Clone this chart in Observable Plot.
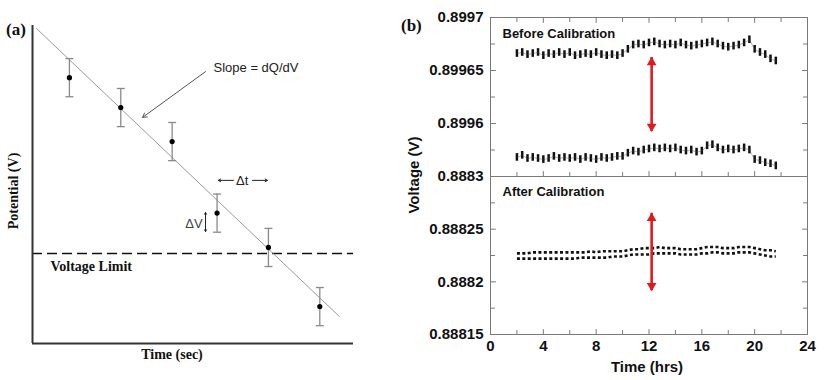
<!DOCTYPE html>
<html><head><meta charset="utf-8">
<script src="https://cdn.jsdelivr.net/npm/d3@7"></script>
<script src="https://cdn.jsdelivr.net/npm/@observablehq/plot@0.6"></script>
<style>
body{margin:0;background:#fff;}
#wrap{position:relative;width:831px;height:380px;overflow:hidden;background:#fff;}
.lbl{position:absolute;line-height:1;white-space:nowrap;color:#111;}
.serif{font-family:"Liberation Serif","Times New Roman",serif;font-weight:bold;}
.sans{font-family:"Liberation Sans",Arial,sans-serif;font-weight:bold;}
.holder{position:absolute;}
</style></head><body>
<div id="wrap">
  <div class="lbl serif" style="left:6px;top:29px;font-size:17px;transform:translateY(-50%)">(a)</div>
  <div class="lbl serif" style="left:14px;top:191px;font-size:14px;transform:translate(-50%,-50%) rotate(-90deg)">Potential (V)</div>
  <div class="lbl serif" style="left:172px;top:355px;font-size:14px;transform:translate(-50%,-50%)">Time (sec)</div>
  <div class="lbl serif" style="left:401px;top:25px;font-size:17px;transform:translateY(-50%)">(b)</div>
  <div class="lbl sans" style="left:413px;top:175px;font-size:15px;transform:translate(-50%,-50%) rotate(-90deg)">Voltage (V)</div>
  <div class="lbl sans" style="left:647px;top:366px;font-size:15px;transform:translate(-50%,-50%)">Time (hrs)</div>
</div>
<script>
// ---------- Panel (a): schematic ----------
const schemTime = [1.15, 2.75, 4.35, 5.75, 7.35, 8.95];
const schemPotential = [8.36, 7.42, 6.35, 4.1, 3.02, 1.16];
const schemError = [0.6, 0.6, 0.6, 0.6, 0.6, 0.6];
const fitTime = [0.12, 9.56];
const fitPotential = [9.91, 0.85];
const voltageLimit = 2.83;

// ---------- Panel (b) ----------
const hours = [2.0,2.4,2.8,3.2,3.6,4.0,4.4,4.8,5.2,5.6,6.0,6.4,6.8,7.2,7.6,8.0,8.4,8.8,9.2,9.6,
  10.0,10.4,10.8,11.2,11.6,12.0,12.4,12.8,13.2,13.6,14.0,14.4,14.8,15.2,15.6,16.0,16.4,16.8,17.2,17.6,
  18.0,18.4,18.8,19.2,19.6,20.0,20.4,20.8,21.2,21.6];
const beforeUpper = [0.899666,0.899667,0.899665,0.899666,0.899667,0.899664,0.899666,0.899665,0.899667,0.899665,
  0.899667,0.899664,0.899665,0.899666,0.899665,0.899667,0.899665,0.899664,0.899665,0.899664,
  0.899666,0.899670,0.899674,0.899675,0.899674,0.899676,0.899677,0.899675,0.899674,0.899675,
  0.899674,0.899676,0.899674,0.899673,0.899674,0.899675,0.899676,0.899677,0.899675,0.899673,
  0.899672,0.899673,0.899674,0.899676,0.899679,0.899670,0.899667,0.899665,0.899661,0.899659];
// lower "before" trace, read against the broken axis (bottom edge of top panel = 0.8883)
const beforeLower = [0.888318,0.888320,0.888317,0.888318,0.888317,0.888316,0.888317,0.888319,0.888317,0.888318,
  0.888317,0.888318,0.888316,0.888318,0.888317,0.888316,0.888318,0.888317,0.888318,0.888319,
  0.888319,0.888322,0.888324,0.888323,0.888325,0.888326,0.888327,0.888326,0.888327,0.888326,
  0.888327,0.888325,0.888324,0.888325,0.888323,0.888324,0.888329,0.888330,0.888327,0.888325,
  0.888326,0.888325,0.888326,0.888327,0.888325,0.888316,0.888315,0.888313,0.888312,0.888310];
const afterUpper = [0.888227,0.888227,0.888227,0.888228,0.888228,0.888228,0.888228,0.888228,0.888228,0.888228,
  0.888228,0.888228,0.888228,0.888228,0.888229,0.888228,0.888229,0.888229,0.888229,0.888229,
  0.888229,0.888230,0.888231,0.888231,0.888232,0.888232,0.888232,0.888233,0.888232,0.888232,
  0.888232,0.888231,0.888231,0.888231,0.888231,0.888232,0.888233,0.888233,0.888233,0.888232,
  0.888232,0.888232,0.888233,0.888233,0.888233,0.888232,0.888231,0.888230,0.888230,0.888229];
const afterLower = [0.888222,0.888222,0.888222,0.888222,0.888222,0.888222,0.888222,0.888222,0.888222,0.888222,
  0.888222,0.888222,0.888223,0.888223,0.888223,0.888223,0.888223,0.888223,0.888224,0.888224,
  0.888224,0.888225,0.888226,0.888226,0.888226,0.888226,0.888227,0.888227,0.888227,0.888227,
  0.888227,0.888226,0.888226,0.888226,0.888226,0.888227,0.888227,0.888228,0.888228,0.888227,
  0.888227,0.888227,0.888228,0.888228,0.888228,0.888227,0.888226,0.888225,0.888224,0.888224];

const xMajorTicks = [0, 4, 8, 12, 16, 20, 24];
const xMinorTicks = [2, 6, 10, 14, 18, 22];
const topTickValues = [0.8997, 0.89965, 0.8996];
const topMinorTicks = [0.899675, 0.899625, 0.899575];
const topDomain = [0.89955, 0.8997];
const axisBreakLabel = 0.8883; // value shown at the bottom edge of the top panel
const bottomTickValues = [0.8883, 0.88825, 0.8882, 0.88815];
const bottomMinorTicks = [0.888275, 0.888225, 0.888175];
const bottomDomain = [0.88815, 0.8883];
const arrowHour = 12.2;
const topArrow = [0.8995925, 0.8996623];
const bottomArrow = [0.8881916, 0.8882651];

const RED = "#e3191c";
const SANS = "Liberation Sans, Arial, sans-serif";
const SERIF = "Liberation Serif, Times New Roman, serif";
const FRAME = "#7a7a7a";
const wrap = document.getElementById("wrap");

function place(el, left, top) {
  const d = document.createElement("div");
  d.className = "holder";
  d.style.left = left + "px"; d.style.top = top + "px";
  d.appendChild(el); wrap.appendChild(d);
}

const hline = {draw(ctx, size) { const r = Math.sqrt(size / Math.PI); ctx.moveTo(-r, 0); ctx.lineTo(r, 0); }};
const tickShape = {draw(ctx, l) { ctx.moveTo(0, 0); ctx.lineTo(0, -l); }};

// ---------- Panel (a) ----------
const pts = schemTime.map((t, i) => ({t, v: schemPotential[i], e: schemError[i]}));
const fitRows = fitTime.map((t, i) => ({t, v: fitPotential[i]}));
const plotA = Plot.plot({
  width: 380, height: 380,
  marginLeft: 32, marginRight: 27, marginTop: 25, marginBottom: 37,
  style: {background: "transparent", overflow: "visible"},
  x: {domain: [0, 10], axis: null},
  y: {domain: [0, 10], axis: null},
  marks: [
    Plot.ruleY([voltageLimit], {stroke: "#111", strokeWidth: 1.6, strokeDasharray: "10,5"}),
    Plot.line(fitRows, {x: "t", y: "v", stroke: "#9a9a9a", strokeWidth: 1}),
    Plot.ruleX(pts, {x: "t", y1: d => d.v - d.e, y2: d => d.v + d.e, stroke: "#8a8a8a", strokeWidth: 1.3}),
    Plot.dot(pts, {x: "t", y: d => d.v + d.e, symbol: hline, r: 4, stroke: "#8a8a8a", strokeWidth: 1.3}),
    Plot.dot(pts, {x: "t", y: d => d.v - d.e, symbol: hline, r: 4, stroke: "#8a8a8a", strokeWidth: 1.3}),
    Plot.dot(pts, {x: "t", y: "v", r: 2.6, fill: "#000", stroke: null}),
    Plot.ruleX([0], {stroke: "#333", strokeWidth: 2}),
    Plot.ruleY([0], {stroke: "#333", strokeWidth: 2}),
    Plot.text(["Slope = dQ/dV"], {x: 5.64, y: 8.68, textAnchor: "start", fontSize: 13, fontFamily: SANS, fill: "#222"}),
    Plot.arrow([0], {x1: 5.39, y1: 8.55, x2: 3.43, y2: 7.11, stroke: "#555", strokeWidth: 1, headLength: 7}),
    Plot.text(["Δt"], {x: 6.53, y: 5.13, fontSize: 13, fontFamily: SANS, fill: "#222"}),
    Plot.arrow([0], {x1: 6.26, y1: 5.13, x2: 5.79, y2: 5.13, stroke: "#222", strokeWidth: 1, headLength: 4}),
    Plot.arrow([0], {x1: 6.85, y1: 5.13, x2: 7.32, y2: 5.13, stroke: "#222", strokeWidth: 1, headLength: 4}),
    Plot.text(["ΔV"], {x: 5.30, y: 3.77, textAnchor: "end", fontSize: 13, fontFamily: SANS, fill: "#444"}),
    Plot.arrow([0], {x1: 5.39, y1: 3.82, x2: 5.39, y2: 4.12, stroke: "#222", strokeWidth: 1, headLength: 3}),
    Plot.arrow([0], {x1: 5.39, y1: 3.82, x2: 5.39, y2: 3.52, stroke: "#222", strokeWidth: 1, headLength: 3}),
    Plot.text(["Voltage Limit"], {x: 0.56, y: 2.42, textAnchor: "start", fontSize: 14, fontWeight: "bold", fontFamily: SERIF, fill: "#111"})
  ]
});
place(plotA, 0, 0);

// ---------- Panel (b) helpers ----------
function edgeTicks(values, dim, frameAnchor, rotate, length) {
  const o = {frameAnchor, rotate, length, anchor: "start", shape: tickShape, stroke: FRAME, strokeWidth: 1};
  o[dim] = d => d;
  return Plot.vector(values, o);
}
function yLabels(values) {
  return Plot.text(values, {y: d => d, text: d => String(d), frameAnchor: "left", dx: -7, textAnchor: "end",
    fontSize: 15, fontWeight: "bold", fontFamily: SANS, fill: "#111"});
}

const rowsBefore = hours.map((h, i) => ({h, up: beforeUpper[i], lo: beforeLower[i] - axisBreakLabel + topDomain[0]}));
const rowsAfter = hours.map((h, i) => ({h, up: afterUpper[i], lo: afterLower[i]}));
const half = 0.0000036;

const topPlot = Plot.plot({
  width: 431, height: 180, marginLeft: 90, marginRight: 24, marginTop: 17, marginBottom: 4,
  style: {background: "transparent", overflow: "visible"},
  x: {domain: [0, 24], axis: null},
  y: {domain: topDomain, axis: null},
  marks: [
    Plot.frame({stroke: FRAME}),
    edgeTicks(xMajorTicks, "x", "bottom", 0, 5),
    edgeTicks(xMinorTicks, "x", "bottom", 0, 4),
    edgeTicks(xMajorTicks, "x", "top", 180, 5),
    edgeTicks(xMinorTicks, "x", "top", 180, 4),
    edgeTicks(topTickValues, "y", "left", 90, 5),
    edgeTicks(topMinorTicks, "y", "left", 90, 4),
    edgeTicks(topTickValues, "y", "right", 270, 5),
    edgeTicks(topMinorTicks, "y", "right", 270, 4),
    yLabels(topTickValues),
    Plot.ruleX(rowsBefore, {x: "h", y1: d => d.up - half, y2: d => d.up + half, stroke: "#111", strokeWidth: 2.5}),
    Plot.ruleX(rowsBefore, {x: "h", y1: d => d.lo - half, y2: d => d.lo + half, stroke: "#111", strokeWidth: 2.5}),
    Plot.line(rowsBefore, {x: "h", y: "up", stroke: "#444", strokeWidth: 0.4}),
    Plot.line(rowsBefore, {x: "h", y: "lo", stroke: "#444", strokeWidth: 0.4}),
    Plot.ruleX([arrowHour], {y1: topArrow[0], y2: topArrow[1], stroke: RED, strokeWidth: 2.6}),
    Plot.dot([topArrow[1]], {x: arrowHour, y: d => d, symbol: "triangle", r: 3.6, fill: RED, stroke: null, dy: 5}),
    Plot.dot([topArrow[0]], {x: arrowHour, y: d => d, symbol: "triangle", rotate: 180, r: 3.6, fill: RED, stroke: null, dy: -5}),
    Plot.text(["Before Calibration"], {frameAnchor: "top-left", dx: 12, dy: 16, textAnchor: "start", lineAnchor: "middle",
      fontSize: 13, fontWeight: "bold", fontFamily: SANS, fill: "#111"})
  ]
});
place(topPlot, 400, 0);

const bottomPlot = Plot.plot({
  width: 431, height: 210, marginLeft: 90, marginRight: 24, marginTop: 6, marginBottom: 46,
  style: {background: "transparent", overflow: "visible"},
  x: {domain: [0, 24], axis: null},
  y: {domain: bottomDomain, axis: null},
  marks: [
    Plot.frame({stroke: FRAME}),
    edgeTicks(xMajorTicks, "x", "bottom", 0, 5),
    edgeTicks(xMinorTicks, "x", "bottom", 0, 4),
    edgeTicks(bottomTickValues, "y", "left", 90, 5),
    edgeTicks(bottomMinorTicks, "y", "left", 90, 4),
    edgeTicks(bottomTickValues, "y", "right", 270, 5),
    edgeTicks(bottomMinorTicks, "y", "right", 270, 4),
    yLabels(bottomTickValues),
    Plot.text(xMajorTicks, {x: d => d, text: d => String(d), frameAnchor: "bottom", dy: 16,
      fontSize: 15, fontWeight: "bold", fontFamily: SANS, fill: "#111"}),
    Plot.line(rowsAfter, {x: "h", y: "up", stroke: "#111", strokeWidth: 2.6, strokeDasharray: "3,2.4", strokeLinecap: "butt"}),
    Plot.line(rowsAfter, {x: "h", y: "lo", stroke: "#111", strokeWidth: 2.6, strokeDasharray: "3,2.4", strokeLinecap: "butt"}),
    Plot.ruleX([arrowHour], {y1: bottomArrow[0], y2: bottomArrow[1], stroke: RED, strokeWidth: 2.6}),
    Plot.dot([bottomArrow[1]], {x: arrowHour, y: d => d, symbol: "triangle", r: 3.6, fill: RED, stroke: null, dy: 5}),
    Plot.dot([bottomArrow[0]], {x: arrowHour, y: d => d, symbol: "triangle", rotate: 180, r: 3.6, fill: RED, stroke: null, dy: -5}),
    Plot.text(["After Calibration"], {frameAnchor: "top-left", dx: 12, dy: 15, textAnchor: "start", lineAnchor: "middle",
      fontSize: 13, fontWeight: "bold", fontFamily: SANS, fill: "#111"})
  ]
});
place(bottomPlot, 400, 170);
</script>
</body></html>
